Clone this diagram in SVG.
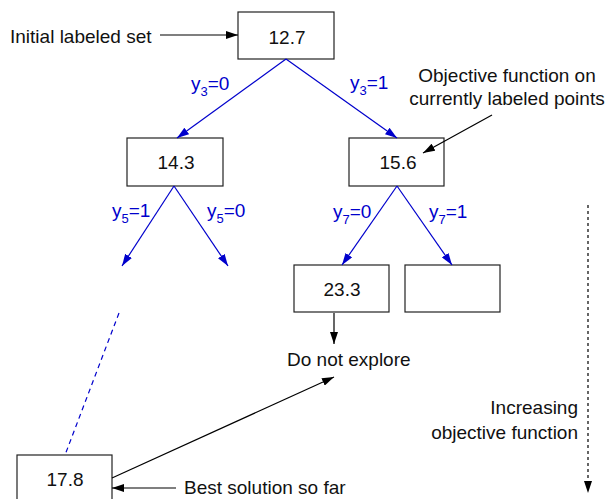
<svg xmlns="http://www.w3.org/2000/svg" width="606" height="499" viewBox="0 0 606 499">
<defs>
<style>
text{font-family:"Liberation Sans",Arial,sans-serif;font-size:19px;fill:#111}
.b{fill:#0000cc}
.s{font-size:13px}
.node rect{fill:#fff;stroke:#222;stroke-width:1.2}
.bl{stroke:#0000cc;stroke-width:1.2;fill:none}
.k{stroke:#000;stroke-width:1.2;fill:none}
</style>
<marker id="ab" viewBox="0 0 12 8" refX="12" refY="4" markerWidth="12" markerHeight="8" markerUnits="userSpaceOnUse" orient="auto"><path d="M0,0L12,4L0,8z" fill="#0000cc"/></marker>
<marker id="ak" viewBox="0 0 12 8" refX="12" refY="4" markerWidth="12" markerHeight="8" markerUnits="userSpaceOnUse" orient="auto"><path d="M0,0L12,4L0,8z" fill="#000"/></marker>
</defs>
<g id="n127" class="node"><rect x="238" y="12" width="96" height="47"/><text x="287" y="44" text-anchor="middle">12.7</text></g>
<g id="n143" class="node"><rect x="127" y="138" width="96" height="48"/><text x="176" y="169" text-anchor="middle">14.3</text></g>
<g id="n156" class="node"><rect x="349" y="138" width="95" height="48"/><text x="398" y="169" text-anchor="middle">15.6</text></g>
<g id="n233" class="node"><rect x="294" y="265" width="95" height="47"/><text x="342" y="296" text-anchor="middle">23.3</text></g>
<g id="nempty" class="node"><rect x="405" y="265" width="95" height="47"/></g>
<g id="n178" class="node"><rect x="17" y="455" width="95" height="48"/><text x="65" y="486" text-anchor="middle">17.8</text></g>
<g id="connectors">
<line class="k" x1="160" y1="35" x2="238" y2="35" marker-end="url(#ak)"/>
<line class="bl" x1="286" y1="59" x2="177" y2="138" marker-end="url(#ab)"/>
<line class="bl" x1="286" y1="59" x2="397" y2="138" marker-end="url(#ab)"/>
<line class="bl" x1="174" y1="186" x2="122" y2="266" marker-end="url(#ab)"/>
<line class="bl" x1="174" y1="186" x2="228" y2="266" marker-end="url(#ab)"/>
<line class="bl" x1="397" y1="186" x2="342" y2="265" marker-end="url(#ab)"/>
<line class="bl" x1="397" y1="186" x2="452" y2="265" marker-end="url(#ab)"/>
<line class="k" x1="492" y1="115" x2="423" y2="153" marker-end="url(#ak)"/>
<line class="k" x1="334" y1="313" x2="334" y2="344" marker-end="url(#ak)"/>
<line class="k" x1="112" y1="478" x2="334" y2="377" marker-end="url(#ak)"/>
<line class="k" x1="176" y1="488" x2="112" y2="488" marker-end="url(#ak)"/>
<line class="bl" x1="119" y1="313" x2="65" y2="455" stroke-dasharray="5,4"/>
<line class="k" x1="588" y1="205" x2="588" y2="493" stroke-dasharray="3,3" marker-end="url(#ak)"/>
</g>
<g id="labels">
<text x="10" y="43">Initial labeled set</text>
<text x="507" y="82" text-anchor="middle">Objective function on</text>
<text x="507" y="105" text-anchor="middle">currently labeled points</text>
<text x="287" y="366">Do not explore</text>
<text x="184" y="494">Best solution so far</text>
<text x="578" y="414" text-anchor="end">Increasing</text>
<text x="578" y="439" text-anchor="end">objective function</text>
<text class="b" x="191" y="90">y<tspan class="s" dy="6">3</tspan><tspan dy="-6">=0</tspan></text>
<text class="b" x="350" y="89">y<tspan class="s" dy="6">3</tspan><tspan dy="-6">=1</tspan></text>
<text class="b" x="112" y="217">y<tspan class="s" dy="6">5</tspan><tspan dy="-6">=1</tspan></text>
<text class="b" x="207" y="217">y<tspan class="s" dy="6">5</tspan><tspan dy="-6">=0</tspan></text>
<text class="b" x="333" y="218">y<tspan class="s" dy="6">7</tspan><tspan dy="-6">=0</tspan></text>
<text class="b" x="429" y="218">y<tspan class="s" dy="6">7</tspan><tspan dy="-6">=1</tspan></text>
</g>
</svg>
